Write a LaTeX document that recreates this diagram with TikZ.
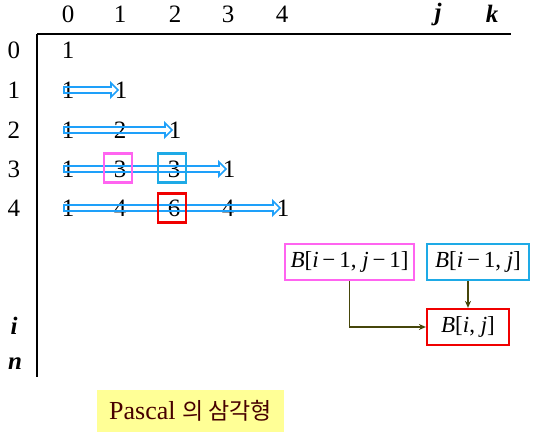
\documentclass[tikz,border=0pt]{standalone}
\usepackage{fontspec}
\setmainfont{Liberation Serif}
\newfontfamily\kofont{Noto Sans CJK KR}
\definecolor{arrowblue}{RGB}{30,160,250}
\definecolor{boxblue}{RGB}{30,170,230}
\definecolor{boxpink}{RGB}{255,100,240}
\definecolor{boxred}{RGB}{240,0,0}
\definecolor{linkolive}{RGB}{70,70,10}
\definecolor{notefill}{RGB}{255,255,150}
\tikzset{
  lbl/.style={font=\fontsize{25}{25}\selectfont, inner sep=0pt},
  var/.style={font=\fontsize{25}{25}\selectfont\bfseries\itshape, inner sep=0pt},
  cellbox/.style={draw=#1, line width=2.2pt, minimum width=28pt, minimum height=29pt},
  refbox/.style={draw=#1, line width=2.2pt, font=\fontsize{23}{23}\selectfont, inner sep=0pt, minimum height=36pt},
  link/.style={draw=linkolive, line width=1.3pt, -{Stealth[length=7pt,width=6pt]}}
}
% hollow blue arrow: start x, tip x, y
\newcommand{\hollowarrow}[3]{%
  \draw[arrowblue, line width=1.7pt, line join=miter]
    (#1,#3-3) -- (#2-7,#3-3) -- (#2-7,#3-7) -- (#2,#3) -- (#2-7,#3+7)
    -- (#2-7,#3+3) -- (#1,#3+3) -- cycle;}
\usetikzlibrary{arrows.meta}
\begin{document}
\begin{tikzpicture}[x=1pt, y=-1pt]
    \useasboundingbox (0,0) rectangle (543,438);

    % Axes
    \draw[line width=1.6pt] (37,34) -- (511,34);
    \draw[line width=1.6pt] (37,34) -- (37,377);

    % Column headers
    \foreach \c/\x in {0/68, 1/120, 2/175, 3/228, 4/282}
        \node[lbl] (col\c) at (\x,14) {\c};
    \node[var] (colj) at (438,14) {j};
    \node[var] (colk) at (492,14) {k};

    % Row headers
    \foreach \r/\y in {0/50, 1/90, 2/130, 3/169, 4/208}
        \node[lbl] (row\r) at (14,\y) {\r};
    \node[var] (rowi) at (14,326) {i};
    \node[var] (rown) at (15,364) {n};

    % Triangle values
    \node[lbl] (v00) at (68,50) {1};
    \node[lbl] (v10) at (68,90) {1};
    \node[lbl] (v11) at (121,90) {1};
    \node[lbl] (v20) at (68,130) {1};
    \node[lbl] (v21) at (120,130) {2};
    \node[lbl] (v22) at (175,130) {1};
    \node[lbl] (v30) at (68,169) {1};
    \node[lbl] (v31) at (120,169) {3};
    \node[lbl] (v32) at (174,169) {3};
    \node[lbl] (v33) at (229,169) {1};
    \node[lbl] (v40) at (68,208) {1};
    \node[lbl] (v41) at (120,208) {4};
    \node[lbl] (v42) at (174,208) {6};
    \node[lbl] (v43) at (228,208) {4};
    \node[lbl] (v44) at (283,208) {1};

    % Arrows over the numbers
    \hollowarrow{64}{118}{90}
    \hollowarrow{64}{172}{130}
    \hollowarrow{64}{226}{169}
    \hollowarrow{64}{280}{208}

    % Highlighted cells
    \node[cellbox=boxpink] (c31) at (118,168) {};
    \node[cellbox=boxblue] (c32) at (172,168) {};
    \node[cellbox=boxred] (c42) at (172,208) {};

    % Recurrence
    \node[refbox=boxpink, minimum width=129pt] (bprev) at (349.5,262)
        {\textit{B}[\textit{i}\,−\,1, \textit{j}\,−\,1]};
    \node[refbox=boxblue, minimum width=102pt] (bup) at (478,262)
        {\textit{B}[\textit{i}\,−\,1, \textit{j}]};
    \node[refbox=boxred, minimum width=82pt] (bcur) at (468,327)
        {\textit{B}[\textit{i}, \textit{j}]};
    \draw[link] (bprev.south) |- (bcur.west);
    \draw[link] (bup.south -| bcur.north) -- (bcur.north);

    % Caption
    \node[fill=notefill, minimum width=187pt, minimum height=42pt,
          font=\fontsize{26}{26}\selectfont, text=black!60!red!70!black] (note) at (190.5,411)
        {Pascal {\kofont\fontsize{23}{23}\selectfont 의 삼각형}};
\end{tikzpicture}
\end{document}
